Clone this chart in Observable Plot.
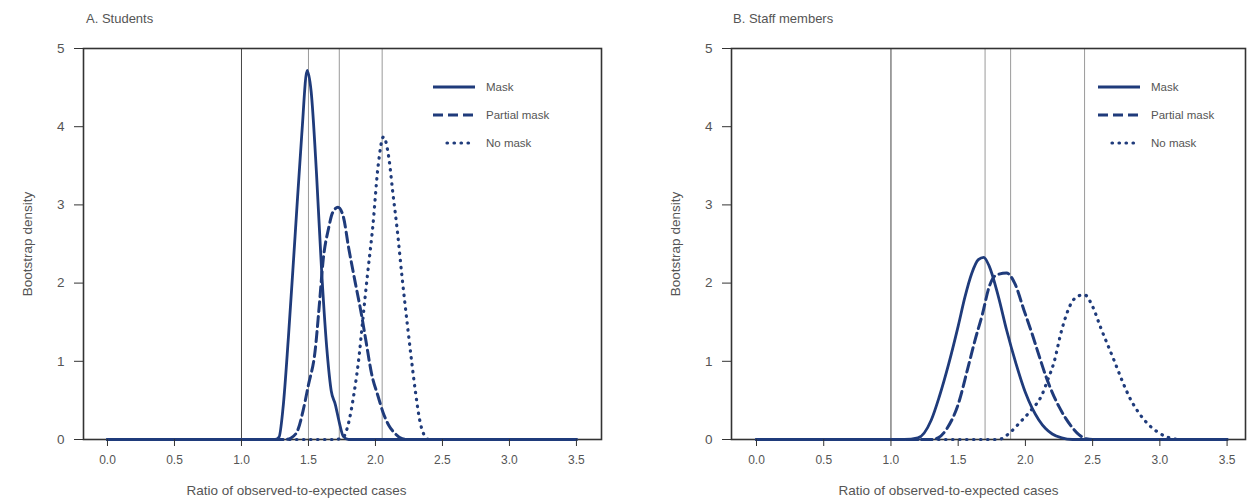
<!DOCTYPE html>
<html><head><meta charset="utf-8">
<script src="https://cdn.jsdelivr.net/npm/d3@7"></script>
<script src="https://cdn.jsdelivr.net/npm/@observablehq/plot@0.6"></script>
<style>
body{margin:0;background:#fff;}
#wrap{position:relative;width:1249px;height:502px;font-family:"Liberation Sans",Arial,sans-serif;color:#555;overflow:hidden;}
.panel{position:absolute;top:0;}
.title{position:absolute;font-size:13px;color:#555;line-height:14px;}
.legend{position:absolute;font-size:11.5px;color:#555;}
.legend .row{position:absolute;left:0;white-space:nowrap;height:14px;line-height:14px;}
.legend svg{position:absolute;left:0;top:2px;}
.legend span{position:absolute;top:0;}
</style>
</head><body>
<div id="wrap"></div>
<script>
// ---- data ----
const xTicks = [0, 0.5, 1, 1.5, 2, 2.5, 3, 3.5];
const yTicks = [0, 1, 2, 3, 4, 5];
const seriesNames = ["Mask", "Partial mask", "No mask"];
const panelTitles = ["A. Students", "B. Staff members"];
const xLabel = "Ratio of observed-to-expected cases";
const yLabel = "Bootstrap density";

const studentsRefLines = [1.0, 1.50, 1.73, 2.05];
const staffRefLines = [1.0, 1.70, 1.89, 2.44];

const studentsMask = [[0,0],[1.0,0],[1.25,0],[1.28,0.03],[1.31,0.4],[1.35,1.3],[1.40,2.6],[1.45,3.9],[1.49,4.72],[1.52,4.45],[1.56,3.4],[1.60,2.1],[1.64,1.1],[1.67,0.62],[1.70,0.45],[1.73,0.22],[1.76,0.04],[1.80,0],[3.5,0]];
const studentsPartial = [[0,0],[1.33,0],[1.37,0.02],[1.42,0.12],[1.46,0.37],[1.50,0.7],[1.55,1.14],[1.58,1.7],[1.61,2.3],[1.65,2.7],[1.68,2.9],[1.72,2.97],[1.76,2.85],[1.80,2.45],[1.85,2.0],[1.89,1.65],[1.93,1.25],[1.97,0.85],[2.02,0.55],[2.06,0.33],[2.10,0.18],[2.15,0.07],[2.20,0.01],[2.25,0],[3.5,0]];
const studentsNoMask = [[0,0],[1.70,0],[1.76,0.03],[1.79,0.15],[1.84,0.59],[1.88,1.1],[1.90,1.44],[1.94,2.1],[1.98,2.72],[2.02,3.5],[2.06,3.87],[2.10,3.6],[2.13,3.15],[2.16,2.72],[2.20,2.05],[2.24,1.44],[2.27,1.0],[2.30,0.59],[2.33,0.25],[2.36,0.07],[2.40,0],[3.5,0]];

const staffMask = [[0,0],[1.10,0],[1.20,0.02],[1.30,0.25],[1.36,0.55],[1.43,0.97],[1.50,1.45],[1.55,1.82],[1.60,2.12],[1.65,2.3],[1.69,2.33],[1.73,2.22],[1.80,1.82],[1.86,1.4],[1.93,0.97],[2.00,0.6],[2.05,0.4],[2.10,0.25],[2.15,0.14],[2.20,0.07],[2.27,0.02],[2.35,0],[3.5,0]];
const staffPartial = [[0,0],[1.30,0],[1.35,0.02],[1.42,0.15],[1.50,0.45],[1.57,0.9],[1.63,1.3],[1.68,1.6],[1.73,1.95],[1.78,2.1],[1.86,2.13],[1.92,2.0],[1.99,1.65],[2.05,1.35],[2.10,1.08],[2.15,0.82],[2.20,0.6],[2.25,0.42],[2.30,0.27],[2.35,0.15],[2.40,0.06],[2.45,0.01],[2.50,0],[3.5,0]];
const staffNoMask = [[0,0],[1.80,0],[1.88,0.08],[1.96,0.22],[2.04,0.37],[2.12,0.56],[2.17,0.78],[2.21,0.97],[2.27,1.4],[2.34,1.74],[2.40,1.84],[2.44,1.85],[2.50,1.7],[2.56,1.43],[2.66,1.01],[2.72,0.75],[2.78,0.52],[2.84,0.35],[2.91,0.2],[2.98,0.1],[3.04,0.04],[3.10,0.01],[3.15,0],[3.5,0]];

// ---- styles ----
const blue = "#1f3b7b";
const lineStyles = {
  "Mask": {strokeWidth: 2.8},
  "Partial mask": {strokeWidth: 3, strokeDasharray: "10,5"},
  "No mask": {strokeWidth: 3.2, strokeDasharray: "0.5,6.5", strokeLinecap: "round"}
};

function makePanel({width, marginLeft, marginRight, xDomain, refs, series, xLabelShift}) {
  const rows = [];
  series.forEach((pts, i) => pts.forEach(p => rows.push({series: seriesNames[i], x: p[0], y: p[1]})));
  const order = ["No mask", "Partial mask", "Mask"];
  return Plot.plot({
    width, height: 502,
    marginLeft, marginRight, marginTop: 48, marginBottom: 63,
    style: {fontFamily: '"Liberation Sans", Arial, sans-serif', fontSize: "12px", color: "#555", background: "white", overflow: "visible"},
    x: {domain: xDomain},
    y: {domain: [0, 5]},
    marks: [
      Plot.ruleX(refs.filter(r => r !== 1), {stroke: "#9a9a9a", strokeWidth: 1}),
      Plot.ruleX(refs.filter(r => r === 1), {stroke: "#444", strokeWidth: 1}),
      Plot.frame({stroke: "#333", strokeWidth: 1.6}),
      ...order.map(name => Plot.line(rows.filter(d => d.series === name), {
        x: "x", y: "y", curve: "monotone-x", stroke: blue, strokeLinejoin: "round", ...lineStyles[name]
      })),
      Plot.axisY({ticks: yTicks, tickFormat: d3.format("d"), tickSize: 9, tickPadding: 10, stroke: "#333",
        label: yLabel, labelAnchor: "center", labelOffset: 61, labelArrow: "none", fontSize: 13.5}),
      Plot.axisX({ticks: xTicks, tickFormat: d3.format(".1f"), tickSize: 7, tickPadding: 9, stroke: "#333",
        label: null, fontSize: 12}),
      Plot.text([xLabel], {frameAnchor: "bottom", lineAnchor: "middle", dx: xLabelShift, dy: 51,
        fontSize: 13.5, fill: "#555"})
    ]
  });
}

const wrap = document.getElementById("wrap");
function place(el, left) { const d = document.createElement("div"); d.className = "panel"; d.style.left = left + "px"; d.appendChild(el); wrap.appendChild(d); }

place(makePanel({width: 624, marginLeft: 83, marginRight: 23, xDomain: [-0.179, 3.687], refs: studentsRefLines,
  series: [studentsMask, studentsPartial, studentsNoMask], xLabelShift: -46}), 0);
place(makePanel({width: 625, marginLeft: 107, marginRight: 4, xDomain: [-0.186, 3.637], refs: staffRefLines,
  series: [staffMask, staffPartial, staffNoMask], xLabelShift: -40}), 624);

function addTitle(text, left, top) {
  const t = document.createElement("div"); t.className = "title"; t.textContent = text;
  t.style.left = left + "px"; t.style.top = top + "px"; wrap.appendChild(t);
}
addTitle(panelTitles[0], 86, 12);
addTitle(panelTitles[1], 733, 12);

function addLegend(left, top, gap) {
  const lg = document.createElement("div"); lg.className = "legend";
  lg.style.left = left + "px"; lg.style.top = top + "px";
  seriesNames.forEach((name, i) => {
    const r = document.createElement("div"); r.className = "row"; r.style.top = (i * gap) + "px";
    const s = lineStyles[name];
    r.innerHTML = `<svg width="46" height="10"><line x1="${name==="No mask"?16:2}" x2="44" y1="5" y2="5" stroke="${blue}" stroke-width="${s.strokeWidth}" ${s.strokeDasharray ? `stroke-dasharray="${s.strokeDasharray}"` : ""} ${s.strokeLinecap ? `stroke-linecap="${s.strokeLinecap}"` : ""}/></svg><span style="left:55px">${name}</span>`;
    lg.appendChild(r);
  });
  wrap.appendChild(lg);
}
addLegend(431, 80, 28);
addLegend(1096, 80, 28);
</script>
</body></html>
